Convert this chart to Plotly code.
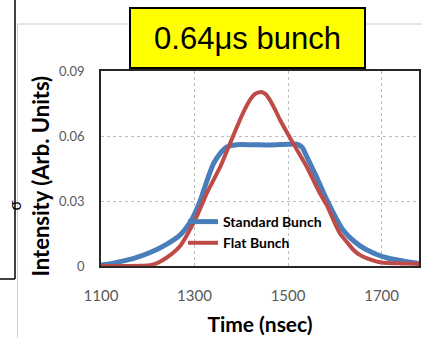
import plotly.graph_objects as go

# ---- data ----
std_time = [1100, 1120, 1141, 1170, 1205, 1240, 1270, 1290, 1300, 1312, 1326, 1340,
            1355, 1370, 1390, 1420, 1460, 1500, 1519, 1530, 1540, 1561, 1583, 1604,
            1618, 1633, 1654, 1668, 1690, 1711, 1725, 1754, 1780]
std_intensity = [0.0005, 0.0010, 0.0020, 0.0035, 0.0062, 0.0100, 0.0145, 0.0200, 0.0240,
                 0.0300, 0.0390, 0.0470, 0.0520, 0.0550, 0.0560, 0.0560, 0.0558, 0.0562,
                 0.0562, 0.0548, 0.0505, 0.0410, 0.0305, 0.0215, 0.0165, 0.0130, 0.0093,
                 0.0075, 0.0053, 0.0038, 0.0031, 0.0020, 0.0012]

flat_time = [1100, 1150, 1200, 1210, 1226, 1240, 1255, 1270, 1283, 1305, 1326, 1355,
             1376, 1397, 1408, 1419, 1430, 1442, 1452, 1461, 1472, 1483, 1511, 1540,
             1568, 1583, 1597, 1611, 1626, 1640, 1654, 1668, 1690, 1704, 1740, 1780]
flat_intensity = [0.0000, 0.0000, 0.0002, 0.0006, 0.0020, 0.0038, 0.0062, 0.0095, 0.0140,
                  0.0230, 0.0335, 0.0458, 0.0566, 0.0674, 0.0725, 0.0768, 0.0795, 0.0803,
                  0.0793, 0.0767, 0.0723, 0.0674, 0.0566, 0.0458, 0.0335, 0.0280, 0.0212,
                  0.0150, 0.0110, 0.0074, 0.0050, 0.0036, 0.0020, 0.0015, 0.0012, 0.0010]

x_ticks = [1100, 1300, 1500, 1700]
y_ticks = [0, 0.03, 0.06, 0.09]
y_tick_labels = ["0", "0.03", "0.06", "0.09"]

W, H = 422, 338
L, R, T, B = 101, 3, 71, 72
PW, PH = W - L - R, H - T - B


def px(xp):
    return (xp - L) / PW


def py(yp):
    return (H - B - yp) / PH


fig = go.Figure()
fig.add_trace(go.Scatter(x=std_time, y=std_intensity, mode="lines", name="Standard Bunch",
                         line=dict(color="#4A7EBB", width=5, shape="spline", smoothing=0.5)))
fig.add_trace(go.Scatter(x=flat_time, y=flat_intensity, mode="lines", name="Flat Bunch",
                         line=dict(color="#BE4B48", width=4, shape="spline", smoothing=0.5)))

axis_font = dict(family="Lato, sans-serif", color="#595959")
fig.update_layout(
    width=W, height=H,
    margin=dict(l=L, r=R, t=T, b=B, autoexpand=False),
    paper_bgcolor="white", plot_bgcolor="white",
    showlegend=True,
    legend=dict(x=px(183), y=py(206), xanchor="left", yanchor="top",
                bgcolor="rgba(0,0,0,0)", borderwidth=0,
                font=dict(family="Lato, sans-serif", size=14, color="black", weight="bold"),
                itemwidth=30, tracegroupgap=0),
    xaxis=dict(range=[1100, 1780], tickvals=x_ticks, ticks="", showgrid=True,
               gridcolor="#BDBDBD", griddash="dot", gridwidth=1,
               showline=True, linecolor="#262626", linewidth=1.5, mirror=True,
               zeroline=False, tickfont=dict(size=15, **axis_font),
               ticklabelstandoff=15,
               title=dict(text="Time (nsec)", standoff=15,
                          font=dict(family="Lato, sans-serif", size=21, color="black", weight="bold"))),
    yaxis=dict(range=[0, 0.09], tickvals=y_ticks, ticktext=y_tick_labels, ticks="",
               showgrid=True, gridcolor="#BDBDBD", griddash="dot", gridwidth=1,
               showline=True, linecolor="#262626", linewidth=1.5, mirror=True,
               zeroline=False, tickfont=dict(size=13, **axis_font),
               ticklabelstandoff=12),
)

# y axis title (placed to match the slide layout)
fig.add_annotation(xref="paper", yref="paper", x=px(40), y=py(175.5), xanchor="center", yanchor="middle",
                   text="<b>Intensity (Arb. Units)</b>", textangle=-90, showarrow=False,
                   font=dict(family="Lato, sans-serif", size=22, color="black"))

# slide decorations around the chart
fig.add_shape(type="line", xref="paper", yref="paper", x0=px(15), x1=px(15), y0=py(0), y1=py(279),
              line=dict(color="black", width=1.5), layer="above")
fig.add_shape(type="line", xref="paper", yref="paper", x0=px(0), x1=px(15), y0=py(279), y1=py(279),
              line=dict(color="black", width=1.5), layer="above")
fig.add_shape(type="line", xref="paper", yref="paper", x0=px(17.5), x1=px(17.5), y0=py(24), y1=py(338),
              line=dict(color="#D0D0D0", width=1), layer="above")
fig.add_shape(type="line", xref="paper", yref="paper", x0=px(17.5), x1=px(422), y0=py(24), y1=py(24),
              line=dict(color="#D0D0D0", width=1), layer="above")
fig.add_annotation(xref="paper", yref="paper", x=px(4), y=py(213), text="σ", textangle=-90,
                   showarrow=False, font=dict(family="Liberation Sans", size=16, color="black"))

# title box
fig.add_annotation(xref="paper", yref="paper", x=px(247.5), y=py(38), xanchor="center", yanchor="middle",
                   text="0.64μs bunch", showarrow=False,
                   font=dict(family="Liberation Sans, Arial", size=31, color="black"),
                   bgcolor="#FFFF00", bordercolor="black", borderwidth=2,
                   width=231, height=56)

fig.write_html("out.html", config={"displayModeBar": False},
               post_script="document.body.style.margin='0';")
